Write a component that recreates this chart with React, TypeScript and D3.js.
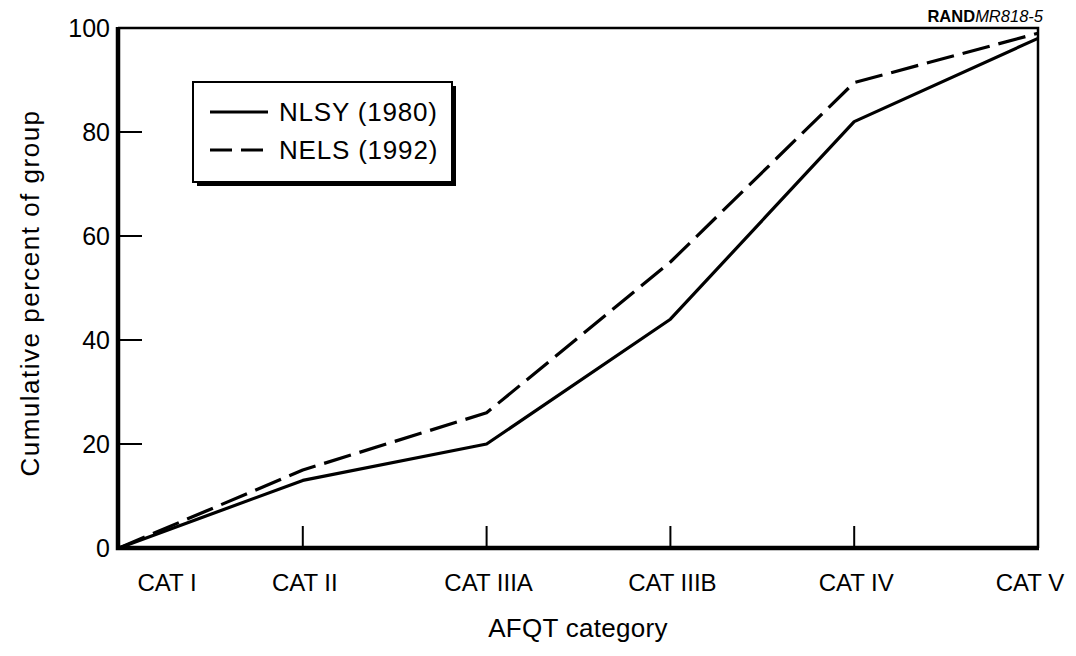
import * as d3 from "d3";
import React from "react";

const categories = ["CAT I", "CAT II", "CAT IIIA", "CAT IIIB", "CAT IV", "CAT V"];
const nlsyValues = [0, 13, 20, 44, 82, 98];
const nelsValues = [0, 15, 26, 55, 89.5, 99];
const yTicks = [0, 20, 40, 60, 80, 100];
const seriesNames = ["NLSY (1980)", "NELS (1992)"];

const FONT = "'Liberation Sans', Arial, Helvetica, sans-serif";

export default function App() {
  const ref = React.useRef<SVGSVGElement>(null);

  React.useEffect(() => {
    if (!ref.current) return;
    const svg = d3.select(ref.current);
    svg.selectAll("*").remove();

    const left = 118;
    const right = 1038;
    const top = 28;
    const bottom = 548;

    const x = d3
      .scalePoint<string>()
      .domain(categories)
      .range([left + 1, right]);
    const y = d3.scaleLinear().domain([0, 100]).range([bottom, top]);

    // frame (thin top/right)
    svg
      .append("path")
      .attr("d", `M${left},${top}H${right}V${bottom}`)
      .attr("fill", "none")
      .attr("stroke", "#000")
      .attr("stroke-width", 2.5);

    // y ticks pointing inward
    svg
      .append("g")
      .selectAll("line")
      .data(yTicks)
      .enter()
      .append("line")
      .attr("x1", left)
      .attr("x2", left + 24)
      .attr("y1", (d) => y(d))
      .attr("y2", (d) => y(d))
      .attr("stroke", "#000")
      .attr("stroke-width", 2);

    svg
      .append("g")
      .selectAll("text")
      .data(yTicks)
      .enter()
      .append("text")
      .attr("x", left - 8)
      .attr("y", (d) => y(d) + 9)
      .attr("text-anchor", "end")
      .attr("font-family", FONT)
      .attr("font-size", 25)
      .text((d) => d);

    // x ticks pointing up
    svg
      .append("g")
      .selectAll("line")
      .data(categories.slice(1, -1))
      .enter()
      .append("line")
      .attr("x1", (d) => x(d) || 0)
      .attr("x2", (d) => x(d) || 0)
      .attr("y1", bottom)
      .attr("y2", bottom - 22)
      .attr("stroke", "#000")
      .attr("stroke-width", 2);

    svg
      .append("g")
      .selectAll("text")
      .data(categories)
      .enter()
      .append("text")
      .attr("x", (d, i) => (x(d) || 0) + (i === 0 ? 48 : i === categories.length - 1 ? -8 : 2))
      .attr("y", 591)
      .attr("text-anchor", "middle")
      .attr("font-family", FONT)
      .attr("font-size", 24)
      .text((d) => d);

    // thick left and bottom axes
    svg
      .append("path")
      .attr("d", `M${left},${top - 1}V${bottom}H${right + 1}`)
      .attr("fill", "none")
      .attr("stroke", "#000")
      .attr("stroke-width", 4.5);

    // lines
    const line = d3
      .line<number>()
      .x((d, i) => x(categories[i]) || 0)
      .y((d) => y(d));

    svg
      .append("path")
      .datum(nlsyValues)
      .attr("d", line)
      .attr("fill", "none")
      .attr("stroke", "#000")
      .attr("stroke-width", 3.2)
      .attr("stroke-linejoin", "round");

    svg
      .append("path")
      .datum(nelsValues)
      .attr("d", line)
      .attr("fill", "none")
      .attr("stroke", "#000")
      .attr("stroke-width", 3.2)
      .attr("stroke-dasharray", "28,9")
      .attr("stroke-linejoin", "round");

    // legend
    const lg = svg.append("g").attr("transform", "translate(193,82)");
    lg.append("rect")
      .attr("x", 4)
      .attr("y", 4)
      .attr("width", 259)
      .attr("height", 100)
      .attr("fill", "#000");
    lg.append("rect")
      .attr("x", 0)
      .attr("y", 0)
      .attr("width", 259)
      .attr("height", 100)
      .attr("fill", "#fff")
      .attr("stroke", "#000")
      .attr("stroke-width", 2);

    seriesNames.forEach((name, i) => {
      const ly = 30 + i * 38;
      lg.append("line")
        .attr("x1", 17)
        .attr("x2", 75)
        .attr("y1", ly)
        .attr("y2", ly)
        .attr("stroke", "#000")
        .attr("stroke-width", 3)
        .attr("stroke-dasharray", i === 1 ? "22,9" : null);
      lg.append("text")
        .attr("x", 86)
        .attr("y", ly + 9)
        .attr("font-family", FONT)
        .attr("font-size", 26)
        .attr("letter-spacing", 0.8)
        .text(name);
    });

    // axis titles
    svg
      .append("text")
      .attr("x", (left + right) / 2)
      .attr("y", 637)
      .attr("text-anchor", "middle")
      .attr("font-family", FONT)
      .attr("font-size", 26)
      .attr("letter-spacing", 0.3)
      .text("AFQT category");

    svg
      .append("text")
      .attr("transform", `translate(39,${(top + bottom) / 2 + 5}) rotate(-90)`)
      .attr("text-anchor", "middle")
      .attr("font-family", FONT)
      .attr("font-size", 26)
      .attr("letter-spacing", 1.5)
      .text("Cumulative percent of group");

    // source tag
    const tag = svg
      .append("text")
      .attr("x", 1043)
      .attr("y", 22)
      .attr("text-anchor", "end")
      .attr("font-family", FONT)
      .attr("font-size", 16.5);
    tag.append("tspan").attr("font-weight", "bold").text("RAND");
    tag.append("tspan").attr("font-style", "italic").text("MR818-5");

    return () => {
      svg.selectAll("*").remove();
    };
  }, []);

  return (
    <div style={{ position: "absolute", left: 0, top: 0, background: "#fff" }}>
      <svg ref={ref} width={1076} height={656} style={{ display: "block" }} />
    </div>
  );
}
